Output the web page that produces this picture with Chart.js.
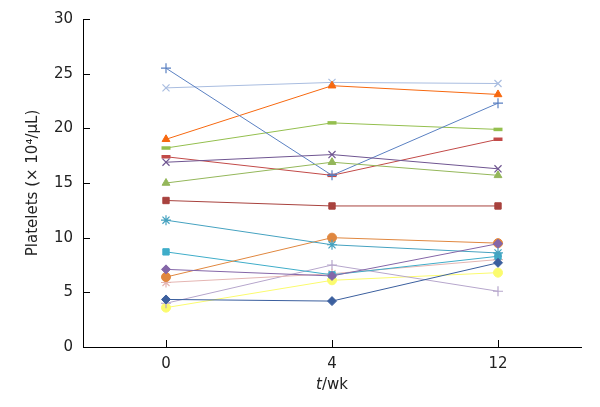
<!DOCTYPE html>
<html>
<head>
<meta charset="utf-8">
<script src="https://cdn.jsdelivr.net/npm/chart.js@4.4.0/dist/chart.umd.min.js"></script>
<style>
  html, body { margin: 0; padding: 0; background: #fff; }
  #wrap { width: 600px; height: 407px; }
</style>
</head>
<body>
<div id="wrap"><canvas id="myChart" width="600" height="407"></canvas></div>
<script>
// x categories (weeks)
var weeks = ['0', '4', '12'];
var yTicks = [0, 5, 10, 15, 20, 25, 30];

// platelet counts per patient (x 10^4/uL)
var p1  = [4.35, 4.2, 7.7];    // dark blue diamond
var p2  = [13.4, 12.9, 12.9];  // dark red square
var p3  = [15.0, 16.9, 15.7];  // green triangle
var p4  = [16.9, 17.6, 16.3];  // purple x
var p5  = [11.6, 9.35, 8.6];   // cyan asterisk
var p6  = [6.4, 10.0, 9.5];    // orange circle
var p7  = [25.5, 15.7, 22.3];  // blue plus
var p8  = [17.4, 15.7, 19.0];  // red dash
var p9  = [18.2, 20.5, 19.9];  // light green dash
var p10 = [7.1, 6.5, 9.45];    // purple diamond
var p11 = [8.7, 6.6, 8.3];     // teal square
var p12 = [19.0, 23.9, 23.1];  // orange triangle
var p13 = [23.7, 24.2, 24.1];  // light blue x
var p14 = [5.9, 6.7, 8.0];     // pale pink asterisk
var p15 = [4.0, 7.5, 5.1];     // lavender plus
var p16 = [3.6, 6.1, 6.8];     // yellow circle

var allSeries = [p1, p2, p3, p4, p5, p6, p7, p8, p9, p10, p11, p12, p13, p14, p15, p16];
var colors = ['#3b5f9e', '#a8423e', '#94b75a', '#6f5591', '#45a2c0', '#e0873f',
              '#5a80c2', '#c24a48', '#94bf4e', '#8466a8', '#3fadc9', '#f7680f',
              '#a9bde0', '#e4b5b2', '#b6a6cc', '#fbfb6e'];
var markers = ['rectRot', 'rect', 'triangle', 'crossRot', 'star', 'circle',
               'cross', 'line', 'line', 'rectRot', 'rect', 'triangle',
               'crossRot', 'star', 'cross', 'circle'];

var datasets = [];
for (var i = 0; i < allSeries.length; i++) {
  var m = markers[i];
  var thin = (m === 'cross' || m === 'crossRot' || m === 'star');
  datasets.push({
    label: 'Patient ' + (i + 1),
    data: allSeries[i],
    borderColor: colors[i],
    backgroundColor: colors[i],
    borderWidth: 1,
    pointStyle: m,
    pointRadius: m === 'rect' ? 4.5 : (thin ? 5 : 4.5),
    pointBorderWidth: m === 'line' ? 3.5 : (thin ? 1.2 : 1),
    pointBackgroundColor: colors[i],
    pointBorderColor: colors[i],
    // purple series sits on top of the orange one at week 12
    order: i === 9 ? -1 : i,
    tension: 0
  });
}

// ticks pointing into the plot, and the mixed-style x title
var innerTicks = {
  id: 'innerTicks',
  afterDraw: function(chart) {
    var ctx = chart.ctx;
    var xs = chart.scales.x, ys = chart.scales.y;
    ctx.save();
    ctx.strokeStyle = '#000';
    ctx.lineWidth = 1;
    ctx.beginPath();
    for (var i = 0; i < ys.ticks.length; i++) {
      var y = Math.round(ys.getPixelForTick(i)) + 0.5;
      ctx.moveTo(xs.left, y);
      ctx.lineTo(xs.left + 7, y);
    }
    for (var j = 0; j < xs.ticks.length; j++) {
      var x = Math.round(xs.getPixelForTick(j)) + 0.5;
      ctx.moveTo(x, ys.bottom);
      ctx.lineTo(x, ys.bottom - 7);
    }
    ctx.stroke();

    var cx = (xs.left + xs.right) / 2;
    var ty = 385;
    ctx.fillStyle = '#222';
    ctx.textBaseline = 'middle';
    ctx.font = 'italic 15px "DejaVu Sans"';
    var w1 = ctx.measureText('t').width;
    ctx.font = '15px "DejaVu Sans"';
    var w2 = ctx.measureText('/wk').width;
    var start = cx - (w1 + w2) / 2;
    ctx.textAlign = 'left';
    ctx.font = 'italic 15px "DejaVu Sans"';
    ctx.fillText('t', start, ty);
    ctx.font = '15px "DejaVu Sans"';
    ctx.fillText('/wk', start + w1, ty);
    ctx.restore();
  }
};

var ctx = document.getElementById('myChart').getContext('2d');
window.myLineChart = new Chart(ctx, {
  type: 'line',
  data: { labels: weeks, datasets: datasets },
  plugins: [innerTicks],
  options: {
    responsive: false,
    animation: false,
    layout: { padding: { top: 16, right: 19, left: 0, bottom: 0 } },
    plugins: { legend: { display: false }, tooltip: { enabled: false } },
    scales: {
      x: {
        type: 'category',
        offset: true,
        grid: { display: false, drawTicks: false },
        border: { display: true, color: '#000', width: 1 },
        ticks: { color: '#222', padding: 8, font: { family: 'DejaVu Sans', size: 15 } },
        afterFit: function(scale) { scale.height = 60; }
      },
      y: {
        min: 0,
        max: 30,
        afterBuildTicks: function(scale) {
          scale.ticks = yTicks.map(function(v) { return { value: v }; });
        },
        grid: { display: false, drawTicks: false },
        border: { display: true, color: '#000', width: 1 },
        ticks: { color: '#222', padding: 10, font: { family: 'DejaVu Sans', size: 15 } },
        title: {
          display: true,
          text: 'Platelets (× 10⁴/μL)',
          color: '#222',
          font: { family: 'DejaVu Sans', size: 15 },
          padding: { top: 24, bottom: 0 }
        },
        afterFit: function(scale) { scale.width = 83; }
      }
    }
  }
});
</script>
</body>
</html>
